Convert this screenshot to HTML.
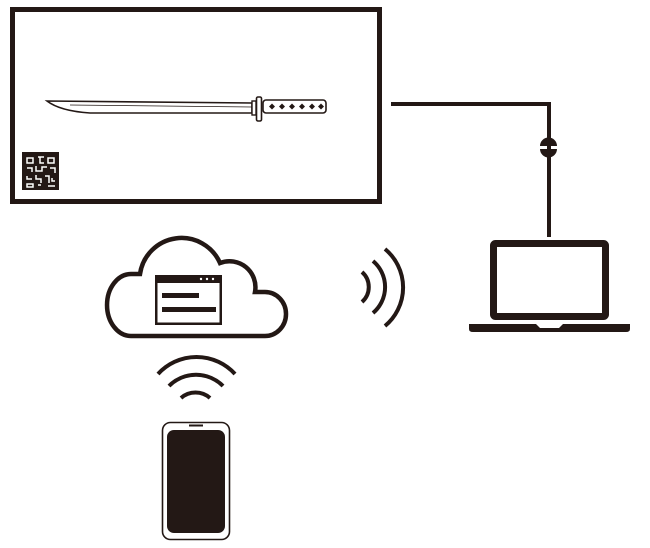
<!DOCTYPE html>
<html><head><style>html,body{margin:0;padding:0;background:#fff;}svg{display:block}</style></head>
<body>
<svg width="650" height="548" viewBox="0 0 650 548" xmlns="http://www.w3.org/2000/svg">
<g fill="none" stroke="#231815">
  <rect x="12.5" y="9.5" width="367" height="192" stroke-width="5"/>
  <path d="M47 101 L252 103 L252 113 L90 113 Q60 111 47 101 Z" stroke-width="1.6" fill="#fff"/>
  <path d="M70 105 L252 107" stroke-width="0.8"/>
  <rect x="252" y="101" width="4" height="14" stroke-width="1.4" fill="#fff"/>
  <rect x="256.5" y="97" width="5" height="24" rx="1.5" stroke-width="1.6" fill="#fff"/>
  <rect x="263" y="100" width="63" height="13" rx="3" stroke-width="1.6" fill="#fff"/>
</g>
<g fill="#231815">
  <path d="M269 106.5 l3 -3 l3 3 l-3 3z M279 106.5 l3 -3 l3 3 l-3 3z M289 106.5 l3 -3 l3 3 l-3 3z M299 106.5 l3 -3 l3 3 l-3 3z M309 106.5 l3 -3 l3 3 l-3 3z M318 106.5 l3 -3 l3 3 l-3 3z"/>
  <rect x="22" y="152" width="37" height="38"/>
</g>
<g fill="none" stroke="#fff" stroke-width="1.5">
  <path d="M27 158 h6 v5 h-6z M38 157 h6 M40 157 v6 h4 M48 158 h6 v5 h-6z M27 168 h5 v4 M36 166 v5 h6 v-4 h5 M50 168 h5 v5 M27 176 v3 h5 M36 175 v4 h5 v4 M45 176 h4 v7 M27 184 h6 v3 h-6z M38 185 h3 M52 178 v3 h3 M48 186 h7"/>
</g>
<g fill="none" stroke="#231815" stroke-linecap="butt">
  <path d="M391 104 H549 V237" stroke-width="4"/>
  <rect x="493.5" y="243.5" width="112" height="73" rx="2" stroke-width="7"/>
  <path d="M131 336 H265 A21 22 0 0 0 265 292 H255 A26 26 0 0 0 220 263 A42 42 0 0 0 140 274 H131 A24 31 0 0 0 131 336 Z" stroke-width="4.5"/>
  <path d="M362 272 A20 20 0 0 1 362 302" stroke-width="4"/>
  <path d="M373 261 A34 34 0 0 1 373 313" stroke-width="4"/>
  <path d="M385 249 A50 50 0 0 1 385 326" stroke-width="4"/>
  <path d="M158 374 A52 52 0 0 1 235 374" stroke-width="4"/>
  <path d="M169 386 A38 38 0 0 1 223 386" stroke-width="4"/>
  <path d="M181 398 A22 22 0 0 1 210 398" stroke-width="4"/>
  <rect x="162.5" y="422.5" width="67" height="117" rx="8" stroke-width="1.6"/>
</g>
<g fill="#231815">
  <path d="M540 146 A8.5 8.5 0 0 1 557 146 Z"/>
  <path d="M540 149 H557 A8.5 8.5 0 0 1 540 149 Z"/>
  <path d="M469 324 H536 L540 328 H559 L563 324 H630 V329 Q630 332 626 332 H473 Q469 332 469 329 Z"/>
  <rect x="155" y="275" width="67" height="8"/>
  <rect x="155" y="275" width="2.5" height="50"/>
  <rect x="219.5" y="275" width="2.5" height="50"/>
  <rect x="155" y="322.5" width="67" height="2.5"/>
  <rect x="162" y="293" width="37" height="5"/>
  <rect x="162" y="307" width="54" height="5"/>
  <rect x="167" y="430" width="58" height="103" rx="7"/>
  <rect x="189" y="424.5" width="14" height="2"/>
</g>
<g fill="#fff"><circle cx="201" cy="279" r="1.2"/><circle cx="207" cy="279" r="1.2"/><circle cx="213" cy="279" r="1.2"/></g>
</svg>
</body></html>
